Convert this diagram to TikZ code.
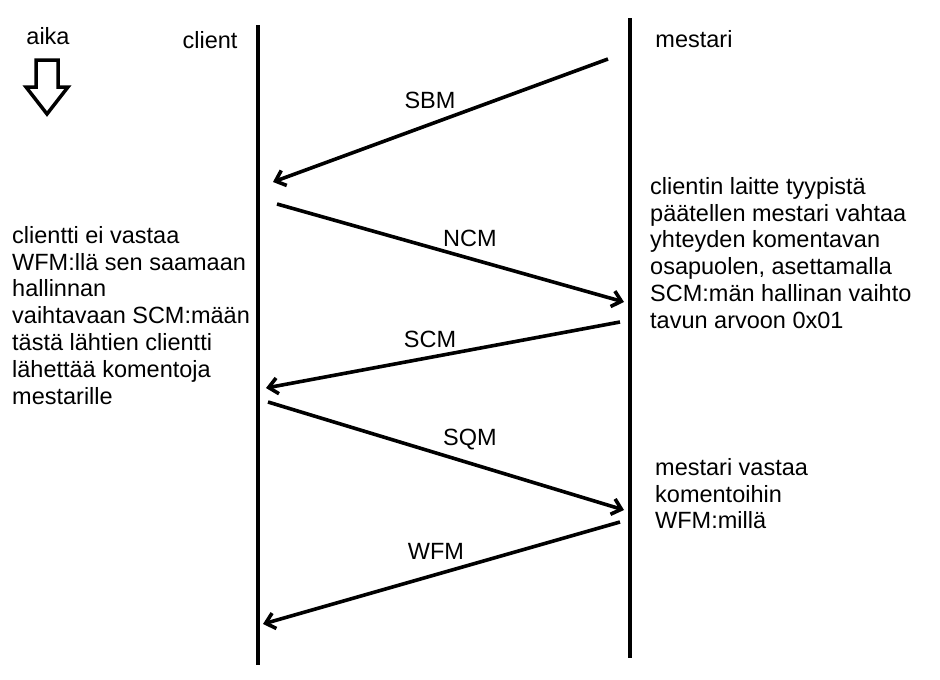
\documentclass[tikz,border=0pt]{standalone}
\usepackage{fontspec}
\setmainfont{Liberation Sans}
\usetikzlibrary{arrows.meta}
\tikzset{
  life/.style = {line width = 4pt},
  msg/.style = {line width = 3.6pt, -{Straight Barb[length = 9pt, width = 16pt, line width = 3.6pt]}},
  lbl/.style = {inner sep = 0pt, font = \fontsize{23.5}{26.8}\selectfont},
  note/.style = {lbl, anchor = north west, align = left}
}
\newcommand{\lifeline}[4]{\coordinate (#1 top) at (#2,#3); \coordinate (#1 bot) at (#2,#4); \draw[life] (#1 top) -- (#1 bot);}

\begin{document}
\begin{tikzpicture}[x = 1pt, y = -1pt]
\useasboundingbox (0,0) rectangle (940,680);
\lifeline{cl}{258}{25}{665};
\lifeline{ms}{630}{18}{658};
\node[lbl] (clname) at (210,40) {client};
\node[lbl] (msname) at (694,39) {mestari};
% time
\node[lbl] (aika) at (48,36) {aika};
\draw[line width = 3.5pt, line join = miter] (36,60) -- (58,60) -- (58,87) -- (68,87) -- (47,114) -- (26,87) -- (36,87) -- cycle;
% messages
\coordinate (sbm a) at (608,59);  \coordinate (sbm b) at (273,182);
\coordinate (ncm a) at (277,204); \coordinate (ncm b) at (624,302);
\coordinate (scm a) at (620,322); \coordinate (scm b) at (266,388);
\coordinate (sqm a) at (268,402); \coordinate (sqm b) at (624,510);
\coordinate (wfm a) at (620,522); \coordinate (wfm b) at (263,624);
\draw[msg] (sbm a) -- (sbm b);
\draw[msg] (ncm a) -- (ncm b);
\draw[msg] (scm a) -- (scm b);
\draw[msg] (sqm a) -- (sqm b);
\draw[msg] (wfm a) -- (wfm b);
\node[lbl] (sbm) at (430,100) {SBM};
\node[lbl] (ncm) at (470,238) {NCM};
\node[lbl] (scm) at (430,339) {SCM};
\node[lbl] (sqm) at (470,440) {SQM};
\node[lbl] (wfm) at (436,551) {WFM};
% notes
\node[note] (clnote) at (12,226) {clientti ei vastaa\\WFM:llä sen saamaan\\hallinnan\\vaihtavaan SCM:mään\\tästä lähtien clientti\\lähettää komentoja\\mestarille};
\node[note] (msnote) at (650,177) {clientin laitte tyypistä\\päätellen mestari vahtaa\\yhteyden komentavan\\osapuolen, asettamalla\\SCM:män hallinan vaihto\\tavun arvoon 0x01};
\node[note] (msnote2) at (655,458) {mestari vastaa\\komentoihin\\WFM:millä};
\end{tikzpicture}
\end{document}
